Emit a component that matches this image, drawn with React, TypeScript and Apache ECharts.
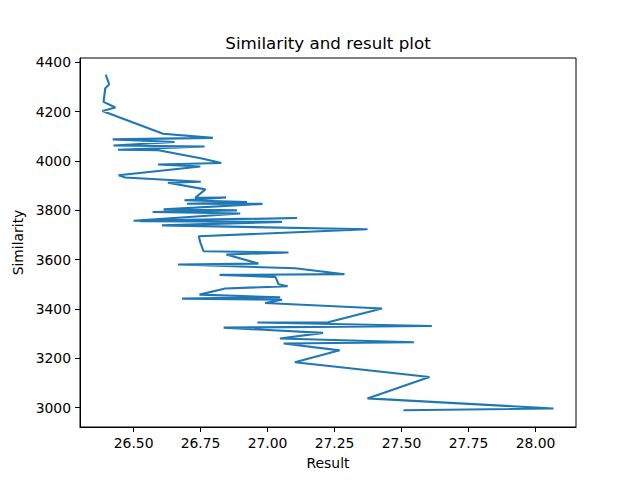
import React, { useEffect, useRef } from "react";
import * as echarts from "echarts";

// values, in plot order
const resultValues = [
	26.396, 26.409, 26.394, 26.388, 26.432, 26.384, 26.61, 26.796, 26.422, 26.653,
	26.425, 26.765, 26.442, 26.593, 26.755, 26.827, 26.591, 26.749, 26.444, 26.469,
	26.751, 26.628, 26.768, 26.73, 26.845, 26.69, 26.923, 26.699, 26.981, 26.612,
	26.886, 26.571, 26.898, 26.5, 27.11, 26.525, 27.054, 26.606, 27.373, 26.743,
	26.749, 26.761, 27.078, 26.846, 26.966, 26.666, 27.103, 27.287, 26.821, 27.029,
	27.035, 27.041, 27.075, 26.842, 26.746, 27.047, 26.681, 27.054, 26.991, 27.427,
	27.226, 26.962, 27.613, 26.836, 27.207, 27.046, 27.546, 27.06, 27.269, 27.102,
	27.604, 27.373, 28.067, 27.507,
];
const similarityValues = [
	4350, 4311, 4294, 4240, 4217, 4203, 4111, 4094, 4088, 4077,
	4063, 4059, 4046, 4044, 4010, 3992, 3986, 3978, 3942, 3933,
	3916, 3912, 3885, 3851, 3852, 3841, 3834, 3827, 3826, 3804,
	3800, 3793, 3787, 3758, 3769, 3756, 3753, 3739, 3723, 3695,
	3670, 3634, 3629, 3621, 3584, 3580, 3565, 3541, 3538, 3530,
	3516, 3500, 3492, 3483, 3458, 3447, 3442, 3437, 3424, 3402,
	3346, 3345, 3331, 3324, 3303, 3280, 3265, 3260, 3232, 3184,
	3124, 3037, 2996, 2989,
];
const xTicks = [26.5, 26.75, 27.0, 27.25, 27.5, 27.75, 28.0];
const yTicks = [3000, 3200, 3400, 3600, 3800, 4000, 4200, 4400];

const FONT = "DejaVu Sans";

export default function App() {
	const chartRef = useRef<HTMLDivElement>(null);

	useEffect(() => {
		if (!chartRef.current) return;
		const chart = echarts.init(chartRef.current, undefined, { renderer: "svg" });
		const points = resultValues.map((x, i) => [x, similarityValues[i]]);

		chart.setOption({
			animation: false,
			backgroundColor: "#fff",
			grid: {
				left: 80,
				right: 64,
				top: 58,
				bottom: 53,
				show: true,
				borderColor: "#000",
				borderWidth: 1,
				backgroundColor: "transparent",
			},
			graphic: [
				{
					type: "text",
					x: 328,
					y: 43,
					style: {
						text: "Similarity and result plot",
						font: `16.7px "${FONT}"`,
						fill: "#000",
						textAlign: "center",
						textVerticalAlign: "middle",
					},
				},
			],
			xAxis: {
				type: "value",
				min: 26.3,
				max: 28.151,
				name: "Result",
				nameLocation: "middle",
				nameGap: 29,
				nameTextStyle: { color: "#000", fontFamily: FONT, fontSize: 13.9 },
				axisLine: { show: true, lineStyle: { color: "#000", width: 1 } },
				axisTick: { show: true, length: 5, customValues: xTicks, lineStyle: { color: "#000" } },
				axisLabel: {
					customValues: xTicks,
					margin: 9,
					color: "#000",
					fontFamily: FONT,
					fontSize: 13.9,
					formatter: (v: number) => v.toFixed(2),
				},
				splitLine: { show: false },
			},
			yAxis: {
				type: "value",
				min: 2921,
				max: 4418,
				name: "Similarity",
				nameLocation: "middle",
				nameGap: 46,
				nameTextStyle: { color: "#000", fontFamily: FONT, fontSize: 13.9 },
				axisLine: { show: true, lineStyle: { color: "#000", width: 1 } },
				axisTick: { show: true, length: 5, customValues: yTicks, lineStyle: { color: "#000" } },
				axisLabel: {
					customValues: yTicks,
					margin: 9,
					color: "#000",
					fontFamily: FONT,
					fontSize: 13.9,
					formatter: (v: number) => String(v),
				},
				splitLine: { show: false },
			},
			series: [
				{
					type: "line",
					data: points,
					showSymbol: false,
					lineStyle: { color: "#1f77b4", width: 2.1 },
				},
			],
		});

		return () => chart.dispose();
	}, []);

	return (
		<div
			ref={chartRef}
			style={{ position: "fixed", left: 0, top: 0, width: 640, height: 480 }}
		/>
	);
}
